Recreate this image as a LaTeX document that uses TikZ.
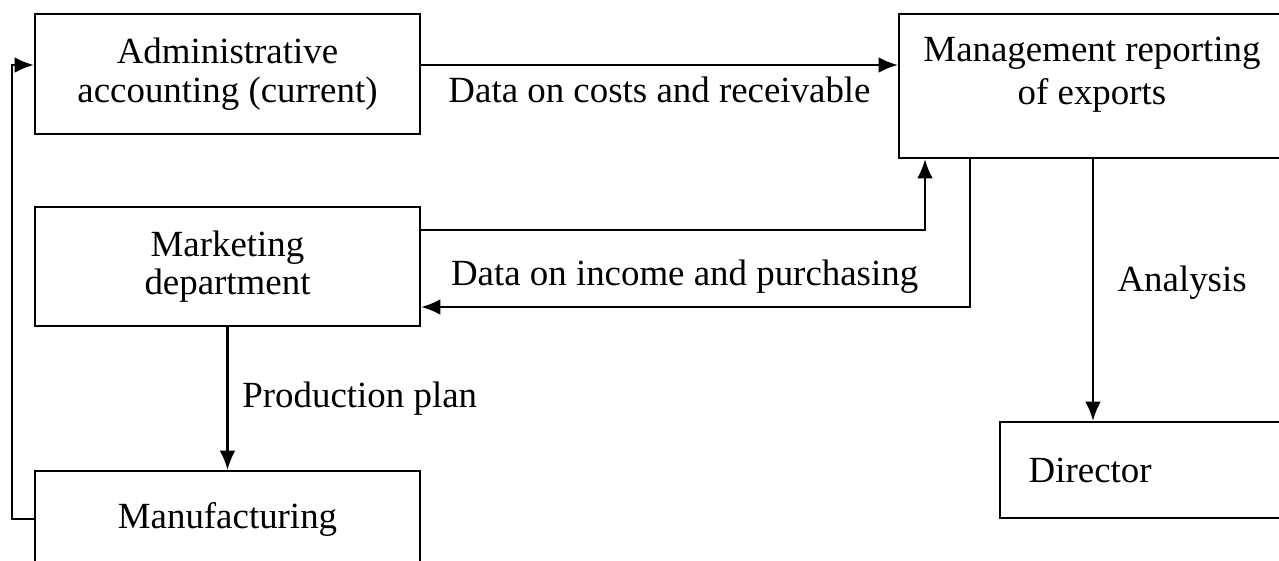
\documentclass[tikz,border=0pt]{standalone}
\usepackage{fontspec}
\setmainfont{Liberation Serif}
\usetikzlibrary{arrows.meta}

\begin{document}
\begin{tikzpicture}[x = 0.02cm, y = -0.02cm, > = {Latex[length=11pt, width=9pt]},
	line width = 1.3pt, font = \fontsize{21}{22}\selectfont,
	box/.style = {draw, rectangle, align = center, inner sep = 0pt}]

	% Definitions

	\def\W{385}		% Width of the boxes on the left
	\def\Ya{65}		% Height of the upper arrow
	\def\Yb{230}	% Height of the arrow going to the report
	\def\Yc{307}	% Height of the arrow coming back from the report

	% Frame of the picture

	\useasboundingbox (0, 0) rectangle (1279, 561);
	\clip (0, 0) rectangle (1279, 561);

	% Boxes

	\node [box, minimum width = \W * 0.02cm, minimum height = 2.4cm] (admin) at (227.5, 74)
		{Administrative\\accounting (current)};
	\node [box, minimum width = \W * 0.02cm, minimum height = 2.38cm] (market) at (227.5, 266.5)
		{Marketing\\department};
	\node [box, minimum width = \W * 0.02cm, minimum height = 1.92cm] (manuf) at (227.5, 519)
		{Manufacturing};
	\node [box, minimum width = 7.72cm, minimum height = 2.88cm,
		label = {[anchor = north, align = center, yshift = -10pt,
			font = \fontsize{21}{24}\selectfont]north:Management reporting\\of exports}]
		(report) at (1092, 86) {};
	\node [box, minimum width = 6cm, minimum height = 1.92cm,
		label = {[anchor = west, xshift = 13pt]west:Director}]
		(director) at (1150, 470) {};

	% Arrows between boxes

	\draw [->] (admin.east |- 0, \Ya) -- node [midway, below = 3pt] {Data on costs and receivable}
		(report.west |- 0, \Ya);
	\draw [->] (market.east |- 0, \Yb) -| (report.south -| 925, 0);
	\draw [->] (report.south -| 970, 0) |- node [pos = 0.76, above = 4pt] {Data on income and purchasing}
		(market.east |- 0, \Yc);
	\draw [->] (report.south -| 1093, 0) -- node [midway, right = 10pt, yshift = 4pt] {Analysis}
		(director.north -| 1093, 0);
	\draw [->] (market.south) -- node [midway, right = 4.5pt] {Production plan} (manuf.north);

	% Feedback loop from manufacturing

	\coordinate (loop) at (12, \Ya);
	\draw [->] (manuf.west) -| (loop) -- (admin.west |- loop);

\end{tikzpicture}
\end{document}
